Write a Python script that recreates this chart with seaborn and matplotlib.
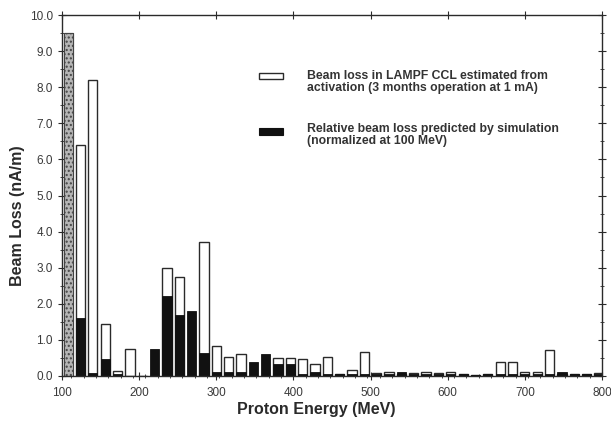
import numpy as np
import pandas as pd
import matplotlib
matplotlib.use("Agg")
import matplotlib.pyplot as plt
import seaborn as sns
from matplotlib.patches import Rectangle
from matplotlib.ticker import MultipleLocator, FormatStrFormatter

# Module centre energies (MeV) of the 44 CCL modules
energy = [108 + 16 * i for i in range(44)]

# Beam loss in LAMPF CCL estimated from activation (nA/m)
measured = [9.5, 6.4, 8.2, 1.44, 0.15, 0.75, 0.0, 0.0, 3.0, 2.75,
            0.0, 3.72, 0.83, 0.53, 0.6, 0.0, 0.0, 0.5, 0.5, 0.47,
            0.33, 0.53, 0.05, 0.17, 0.67, 0.08, 0.1, 0.05, 0.08, 0.1,
            0.08, 0.1, 0.05, 0.03, 0.05, 0.4, 0.4, 0.1, 0.1, 0.72,
            0.05, 0.05, 0.05, 0.08]

# Relative beam loss predicted by simulation (normalized at 100 MeV)
simulated = [9.5, 1.6, 0.08, 0.47, 0.05, 0.0, 0.0, 0.75, 2.22, 1.7,
             1.8, 0.64, 0.1, 0.1, 0.1, 0.38, 0.6, 0.33, 0.33, 0.05,
             0.1, 0.05, 0.05, 0.05, 0.05, 0.05, 0.05, 0.1, 0.05, 0.05,
             0.05, 0.05, 0.05, 0.03, 0.05, 0.05, 0.05, 0.05, 0.05, 0.05,
             0.1, 0.05, 0.05, 0.05]

x_ticks = [100, 200, 300, 400, 500, 600, 700, 800]
legend_labels = ["Beam loss in LAMPF CCL estimated from\nactivation (3 months operation at 1 mA)",
                 "Relative beam loss predicted by simulation\n(normalized at 100 MeV)"]

df = pd.DataFrame({"energy": energy, "measured": measured, "simulated": simulated})

sns.set_theme(style="white")
plt.rcParams["font.family"] = ["Liberation Sans", "DejaVu Sans"]
ink = "#2a2a2a"

fig = plt.figure(figsize=(6.11, 4.23), dpi=100)
ax = fig.add_axes([62 / 611, 1 - 376 / 423, 540 / 611, 361 / 423])

sns.barplot(data=df, x="energy", y="measured", native_scale=True, ax=ax,
            color="white", edgecolor=ink, linewidth=1.0, width=0.75, saturation=1)
n_meas = len(ax.patches)
sns.barplot(data=df, x="energy", y="simulated", native_scale=True, ax=ax,
            color="#111111", edgecolor="#111111", linewidth=0.6, width=0.75, saturation=1)

# first bar: both series coincide (normalisation point) -> stippled grey
for p in (ax.patches[0], ax.patches[n_meas]):
    p.set_facecolor("#b5b5b5")
    p.set_edgecolor("#444444")
    p.set_hatch("....")
    p.set_linewidth(0.8)

ax.set_xlim(100, 800)
ax.set_ylim(0, 10)
ax.set_xticks(x_ticks)
ax.set_xticklabels([str(v) for v in x_ticks])
ax.xaxis.set_minor_locator(MultipleLocator(16))
ax.yaxis.set_major_locator(MultipleLocator(1))
ax.yaxis.set_major_formatter(FormatStrFormatter("%.1f"))
ax.yaxis.set_minor_locator(MultipleLocator(0.5))

for s in ax.spines.values():
    s.set_visible(True)
    s.set_color(ink)
    s.set_linewidth(1.0)

ax.tick_params(axis="both", which="major", direction="inout", length=6, width=0.8,
               color=ink, labelcolor="#3a3a3a", labelsize=8.5,
               top=True, right=True, bottom=True, left=True)
ax.tick_params(axis="both", which="minor", direction="inout", length=3, width=0.6,
               color=ink, top=False, right=True, bottom=True, left=True)
ax.tick_params(axis="x", which="major", pad=5)

ax.set_xlabel("Proton Energy (MeV)", fontsize=11.5, fontweight="bold", color=ink)
ax.set_ylabel("Beam Loss (nA/m)", fontsize=11.5, fontweight="bold", color=ink)
ax.xaxis.set_label_coords(0.47, -0.094)
ax.yaxis.set_label_coords(-0.083, 0.443)
ax.xaxis.label.set_verticalalignment("center")
ax.yaxis.label.set_verticalalignment("center")

# legend drawn manually in figure pixels
def fx(px):
    return px / 611

def fy(py):
    return 1 - py / 423

fig.patches.append(Rectangle((fx(259), fy(79)), 24 / 611, 6 / 423, transform=fig.transFigure,
                             facecolor="white", edgecolor=ink, linewidth=1.0))
fig.patches.append(Rectangle((fx(259), fy(135)), 24 / 611, 7 / 423, transform=fig.transFigure,
                             facecolor="#111111", edgecolor="#111111", linewidth=0.8))
fig.text(fx(307), fy(70), legend_labels[0], fontsize=8.8, fontweight="bold", color="#333333",
         va="top", ha="left", linespacing=1.05)
fig.text(fx(307), fy(123), legend_labels[1], fontsize=8.8, fontweight="bold", color="#333333",
         va="top", ha="left", linespacing=1.05)

fig.savefig("out.png", dpi=100)
